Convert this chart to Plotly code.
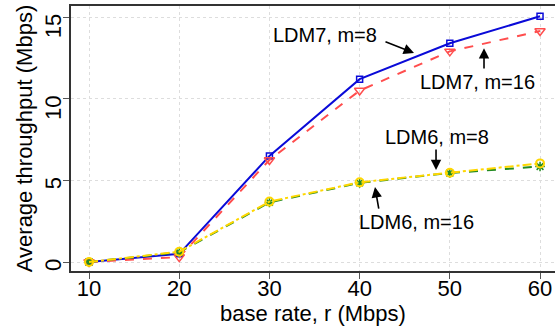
import plotly.graph_objects as go

rates = [10, 20, 30, 40, 50, 60]
ldm7_m8 = [0.0, 0.5, 6.5, 11.2, 13.4, 15.05]
ldm7_m16 = [0.0, 0.3, 6.25, 10.5, 12.9, 14.15]
ldm6_m16 = [0.0, 0.6, 3.65, 4.85, 5.45, 5.85]
ldm6_m8 = [0.0, 0.63, 3.7, 4.88, 5.47, 6.04]

x_ticks = [10, 20, 30, 40, 50, 60]
y_ticks = [0, 5, 10, 15]

labels = ["LDM7, m=8", "LDM7, m=16", "LDM6, m=8", "LDM6, m=16"]
label_x = [36.16, 53.12, 48.58, 46.25]
label_y = [13.9, 11.02, 7.65, 2.45]
arrow_tail_x = [42.7, 53.79, 48.47, 42.15]
arrow_tail_y = [13.53, 11.76, 6.98, 3.18]
arrow_head_x = [46.03, 53.79, 48.47, 41.7]
arrow_head_y = [12.8, 13.1, 5.63, 4.59]

FONT = "Liberation Sans, Arial, Helvetica, sans-serif"

fig = go.Figure()
fig.add_trace(go.Scatter(x=rates, y=ldm7_m8, mode="lines+markers",
                         line=dict(color="#0a0ad8", width=2),
                         marker=dict(symbol="square-open", size=6, color="#0a0ad8", line=dict(width=1.5))))
fig.add_trace(go.Scatter(x=rates, y=ldm7_m16, mode="lines+markers",
                         line=dict(color="#ff4d4d", width=2, dash="dash"),
                         marker=dict(symbol="triangle-down-open", size=9, color="#ff4d4d", line=dict(width=1.5))))
fig.add_trace(go.Scatter(x=rates, y=ldm6_m16, mode="lines+markers",
                         line=dict(color="#228b22", width=2, dash="dash"),
                         marker=dict(symbol="asterisk-open", size=8, color="#228b22", line=dict(width=1.5))))
fig.add_trace(go.Scatter(x=rates, y=ldm6_m8, mode="lines+markers",
                         line=dict(color="#ffd700", width=2, dash="dashdot"),
                         marker=dict(symbol="circle-open", size=8, color="#ffd700", line=dict(width=2))))

for t, lx, ly in zip(labels, label_x, label_y):
    fig.add_annotation(x=lx, y=ly, text=t, showarrow=False,
                       font=dict(family=FONT, size=20, color="black"))
for tx, ty, hx, hy in zip(arrow_tail_x, arrow_tail_y, arrow_head_x, arrow_head_y):
    fig.add_annotation(x=hx, y=hy, ax=tx, ay=ty, xref="x", yref="y", axref="x", ayref="y",
                       text="", showarrow=True, arrowhead=2, arrowsize=1.3, arrowwidth=1.6,
                       arrowcolor="black")

fig.update_layout(
    width=555, height=328,
    margin=dict(l=71, r=0, t=6, b=57),
    plot_bgcolor="white", paper_bgcolor="white",
    showlegend=False,
    font=dict(family=FONT, color="black"),
)
fig.update_xaxes(range=[8.0, 61.66], tickvals=x_ticks, ticktext=[str(v) for v in x_ticks],
                 automargin=False,
                 showline=True, linecolor="#333333", linewidth=1.5, mirror=True,
                 ticks="outside", ticklen=6, tickcolor="#555555", ticklabelstandoff=-9,
                 showgrid=True, gridcolor="#dddddd", griddash="dot", gridwidth=1,
                 zeroline=False, tickfont=dict(size=22),
                 title=dict(text="base rate, r (Mbps)", font=dict(size=22), standoff=2))
fig.update_yaxes(range=[-0.55, 15.68], tickvals=y_ticks, ticktext=[str(v) for v in y_ticks],
                 automargin=False,
                 showline=True, linecolor="#333333", linewidth=1.5, mirror=False,
                 ticks="outside", ticklen=6, tickcolor="#555555", tickangle=-89.9,
                 ticklabelstandoff=9,
                 showgrid=True, gridcolor="#dddddd", griddash="dot", gridwidth=1,
                 zeroline=False, tickfont=dict(size=22),
                 title=dict(text="Average throughput (Mbps)", font=dict(size=22), standoff=2))

fig.write_html("out.html", config={"displayModeBar": False},
               post_script="document.body.style.margin='0';document.body.style.padding='0';document.body.style.overflow='hidden';")
